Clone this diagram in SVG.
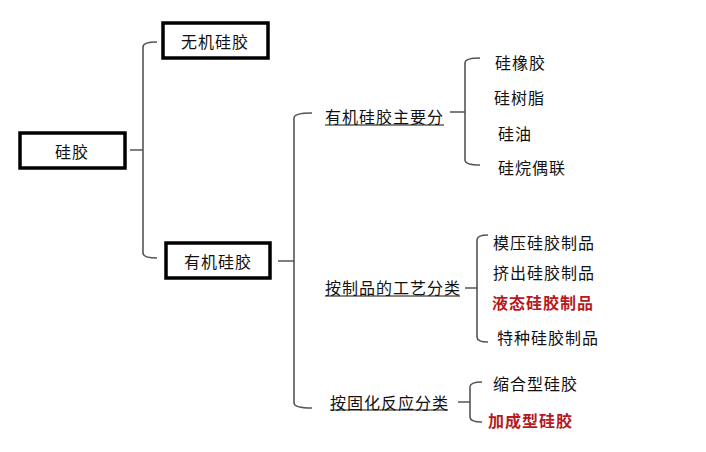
<svg xmlns="http://www.w3.org/2000/svg" width="706" height="452" viewBox="0 0 706 452">
<style>
text{font-family:"Noto Sans CJK SC","Noto Sans",sans-serif;font-size:16px;fill:#111;dominant-baseline:central}
.box{fill:#fff;stroke:#000;stroke-width:3.5}
.c{text-anchor:middle}
.red{fill:#b51a1f;font-weight:bold}
.u{stroke:#111;stroke-width:1.2}
.br{fill:none;stroke:#555;stroke-width:1.6}
</style>
<rect width="706" height="452" fill="#fff"/>
<g id="connectors">
<path class="br" d="M130,150 H143 M157,42 Q143,42 143,47 V253 Q143,258 157,258"/>
<path class="br" d="M278,261 H294 M312,113 Q294,113 294,118 V403 Q294,408 312,408"/>
<path class="br" d="M450,112 H465 M480,58 Q465,58 465,63 V160 Q465,165 480,165"/>
<path class="br" d="M465,288 H477 M488,235 Q477,235 477,240 V337 Q477,342 488,342"/>
<path class="br" d="M458,402 H470 M482,382 Q470,382 470,387 V417 Q470,422 482,422"/>
</g>
<g id="n-guijiao"><rect class="box" x="20" y="133" width="105" height="35"/><text class="c" x="72" y="151" letter-spacing="1">硅胶</text></g>
<g id="n-wuji"><rect class="box" x="163" y="23" width="105" height="35"/><text class="c" x="215" y="41" letter-spacing="1">无机硅胶</text></g>
<g id="n-youji"><rect class="box" x="166" y="243" width="104" height="35"/><text class="c" x="218" y="261" letter-spacing="1">有机硅胶</text></g>
<g id="n-zhuyao"><text x="325" y="116" letter-spacing="1">有机硅胶主要分</text><line class="u" x1="325" y1="125" x2="444" y2="125"/></g>
<g id="n-gongyi"><text x="325" y="287" letter-spacing="1">按制品的工艺分类</text><line class="u" x1="325" y1="296" x2="460" y2="296"/></g>
<g id="n-guhua"><text x="330" y="402" letter-spacing="1">按固化反应分类</text><line class="u" x1="330" y1="410" x2="448" y2="410"/></g>
<g id="n-xiangjiao"><text x="495" y="62" letter-spacing="1">硅橡胶</text></g>
<g id="n-shuzhi"><text x="494" y="97" letter-spacing="1">硅树脂</text></g>
<g id="n-you"><text x="498" y="133" letter-spacing="1">硅油</text></g>
<g id="n-ouliang"><text x="498" y="167" letter-spacing="1">硅烷偶联</text></g>
<g id="n-moya"><text x="493" y="242" letter-spacing="1">模压硅胶制品</text></g>
<g id="n-jichu"><text x="493" y="272" letter-spacing="1">挤出硅胶制品</text></g>
<g id="n-yetai"><text class="red" x="492" y="302" letter-spacing="1">液态硅胶制品</text></g>
<g id="n-tezhong"><text x="497" y="337" letter-spacing="1">特种硅胶制品</text></g>
<g id="n-suohe"><text x="493" y="383" letter-spacing="1">缩合型硅胶</text></g>
<g id="n-jiacheng"><text class="red" x="488" y="420" letter-spacing="1">加成型硅胶</text></g>
</svg>
